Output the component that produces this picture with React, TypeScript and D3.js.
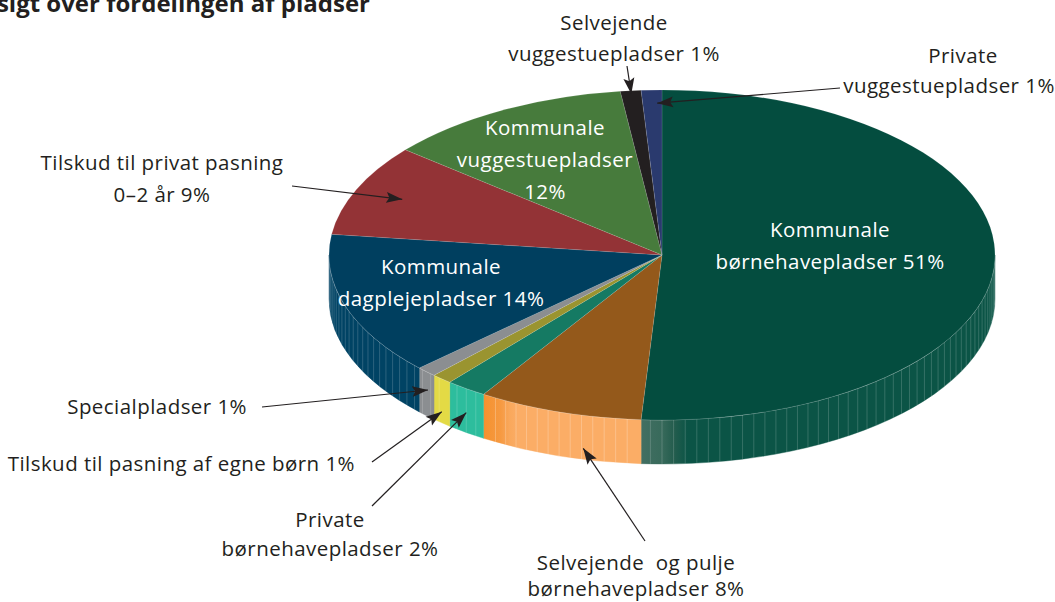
import React from 'react';
import * as d3 from 'd3';

const categories = [
  'Kommunale børnehavepladser',
  'Selvejende og pulje børnehavepladser',
  'Private børnehavepladser',
  'Tilskud til pasning af egne børn',
  'Specialpladser',
  'Kommunale dagplejepladser',
  'Tilskud til privat pasning 0-2 år',
  'Kommunale vuggestuepladser',
  'Selvejende vuggestuepladser',
  'Private vuggestuepladser',
];
const values = [51, 8, 2, 1, 1, 14, 9, 12, 1, 1];
const topColors = ['#044d3f', '#94591b', '#157a63', '#9a9430', '#8b8e91', '#003f5f', '#933336', '#477b3c', '#231f20', '#2a3a6e'];
const sideColors = ['#0b5446', '#fbad66', '#2dbd9d', '#e3da45', '#8b8e91', '#004364', '#933336', '#477b3c', '#231f20', '#2a3a6e'];

// inner (white) labels: slice index, lines
const innerLabels = [
  { i: 0, lines: ['Kommunale', 'børnehavepladser 51%'], x: 830, y: 237 },
  { i: 7, lines: ['Kommunale', 'vuggestuepladser', '12%'], x: 545, y: 135 },
  { i: 5, lines: ['Kommunale', 'dagplejepladser 14%'], x: 441, y: 274 },
];
// outer labels with arrows
const outerLabels = [
  { i: 8, lines: ['Selvejende', 'vuggestuepladser 1%'], x: 614, y: 30, lh: 31, anchor: 'middle', from: [627, 66], pos: 0.5, f: 0.98, d: 0 },
  { i: 9, lines: ['Private', 'vuggestuepladser 1%'], x: 949, y: 63, lh: 30, anchor: 'middle', from: [840, 88], pos: 0.75, f: 0.92, d: 0, firstX: 963 },
  { i: 6, lines: ['Tilskud til privat pasning', '0–2 år 9%'], x: 162, y: 170, lh: 32, anchor: 'middle', from: [292, 186], pos: 0.5, f: 0.85, d: 0 },
  { i: 4, lines: ['Specialpladser 1%'], x: 247, y: 414, lh: 30, anchor: 'end', from: [262, 407], pos: 0.4, f: 1, d: 0.4 },
  { i: 3, lines: ['Tilskud til pasning af egne børn 1%'], x: 355, y: 471, lh: 30, anchor: 'end', from: [372, 462], pos: 0.5, f: 1, d: 0.75 },
  { i: 2, lines: ['Private', 'børnehavepladser 2%'], x: 330, y: 527, lh: 29, anchor: 'middle', from: [372, 506], pos: 0.5, f: 1, d: 0.55 },
  { i: 1, lines: ['Selvejende  og pulje', 'børnehavepladser 8%'], x: 636, y: 570, lh: 26, anchor: 'middle', from: [645, 541], pos: 0.35, f: 1, d: 0.75 },
];

const W = 1055, H = 602;
const cx = 662, cy = 255, rx = 333, ry = 165, depth = 44;

const xS = d3.scaleLinear().domain([-1, 1]).range([cx - rx, cx + rx]);
const yS = d3.scaleLinear().domain([-1, 1]).range([cy - ry, cy + ry]);
const pt = (t: number, f = 1): [number, number] => [xS(f * Math.sin(t)), yS(-f * Math.cos(t))];

const pie = d3.pie<number>().sort(null).value((d) => d).startAngle(0).endAngle(2 * Math.PI);
const arcs = pie(values);

function topPath(a0: number, a1: number) {
  const [x0, y0] = pt(a0);
  const [x1, y1] = pt(a1);
  const large = a1 - a0 > Math.PI ? 1 : 0;
  return `M${cx},${cy}L${x0},${y0}A${rx},${ry} 0 ${large} 1 ${x1},${y1}Z`;
}
function sidePath(s0: number, s1: number) {
  const [x0, y0] = pt(s0);
  const [x1, y1] = pt(s1);
  return `M${x0},${y0}A${rx},${ry} 0 0 1 ${x1},${y1}L${x1},${y1 + depth}A${rx},${ry} 0 0 0 ${x0},${y0 + depth}Z`;
}

const FONT = "'Open Sans', 'Noto Sans', sans-serif";
const FS = 20.5;
const LS = 0.45;
const step = (2 * Math.PI) / 180;

export default function App() {
  const sides: React.ReactNode[] = [];
  const defs: React.ReactNode[] = [];
  arcs.forEach((a, i) => {
    const s0 = Math.max(a.startAngle, Math.PI / 2);
    const s1 = Math.min(a.endAngle, (3 * Math.PI) / 2);
    if (s0 >= s1) return;
    let fill = sideColors[i];
    if (i === 0) {
      const xa = pt(a.endAngle)[0];
      const xb = pt(a.endAngle - 0.14)[0];
      defs.push(
        <linearGradient key={'g' + i} id={'side' + i} gradientUnits="userSpaceOnUse" x1={xa} x2={xb} y1={0} y2={0}>
          <stop offset="0" stopColor="#426f62" />
          <stop offset="0.45" stopColor="#386a5b" />
          <stop offset="0.7" stopColor="#245d4e" />
          <stop offset="1" stopColor={sideColors[0]} />
        </linearGradient>
      );
      fill = `url(#side${i})`;
    }
    if (i === 1) {
      const xa = pt(a.endAngle)[0];
      const xb = pt(a.endAngle - 0.12)[0];
      defs.push(
        <linearGradient key={'g' + i} id={'side' + i} gradientUnits="userSpaceOnUse" x1={xa} x2={xb} y1={0} y2={0}>
          <stop offset="0" stopColor="#f5912e" />
          <stop offset="0.5" stopColor="#f69a42" />
          <stop offset="0.75" stopColor="#f9a85c" />
          <stop offset="1" stopColor={sideColors[1]} />
        </linearGradient>
      );
      fill = `url(#side${i})`;
    }
    sides.push(<path key={'s' + i} d={sidePath(s0, s1)} fill={fill} stroke={fill} strokeWidth={0.4} />);
    for (let t = Math.ceil(s0 / step + 0.3) * step; t < s1 - step * 0.3; t += step) {
      const [x, y] = pt(t);
      sides.push(
        <line key={`f${i}-${t}`} x1={x} y1={y} x2={x} y2={y + depth} stroke="#ffffff" strokeOpacity={i === 1 ? 0.3 : 0.22} strokeWidth={0.8} />
      );
    }
  });

  const [ex0, ey0] = pt(Math.PI / 2);
  const [ex1, ey1] = pt((3 * Math.PI) / 2);

  return (
    <svg width={W} height={H} style={{ position: 'absolute', left: 0, top: 0, background: '#fff' }} fontFamily={FONT}>
      <defs>
        {defs}
        <marker id="arr" markerUnits="userSpaceOnUse" markerWidth={17} markerHeight={12} refX={16} refY={6} orient="auto">
          <path d="M0,0.5 L16,6 L0,11.5 L3,6 Z" fill="#231f20" />
        </marker>
      </defs>
      <text x={370} y={12} textAnchor="end" fontSize={24} fontWeight="bold" fill="#231f20">Oversigt over fordelingen af pladser</text>
      {sides}
      <path d={`M${ex0},${ey0}A${rx},${ry} 0 0 1 ${ex1},${ey1}`} fill="none" stroke="#ffffff" strokeOpacity={0.35} strokeWidth={0.8} />
      {arcs.map((a, i) => (
        <path key={'t' + i} d={topPath(a.startAngle, a.endAngle)} fill={topColors[i]} stroke="#ffffff" strokeOpacity={0.18} strokeWidth={0.6} />
      ))}
      {innerLabels.map((l, k) => (
        <text key={'il' + k} textAnchor="middle" fill="#ffffff" fontSize={FS} letterSpacing={LS}>
          {l.lines.map((s, j) => (
            <tspan key={j} x={l.x} y={l.y + j * 32}>{s}</tspan>
          ))}
        </text>
      ))}
      {outerLabels.map((l, k) => {
        const a = arcs[l.i];
        const t = a.startAngle + (a.endAngle - a.startAngle) * l.pos;
        const [tx, ty] = pt(t, l.f);
        const tipY = ty + l.d * depth;
        return (
          <g key={'ol' + k}>
            <line x1={l.from[0]} y1={l.from[1]} x2={tx} y2={tipY} stroke="#231f20" strokeWidth={1.2} markerEnd="url(#arr)" />
            <text textAnchor={l.anchor as any} fill="#231f20" fontSize={FS} letterSpacing={LS} style={{ whiteSpace: 'pre' }}>
              {l.lines.map((s, j) => (
                <tspan key={j} x={j === 0 && (l as any).firstX ? (l as any).firstX : l.x} y={l.y + j * l.lh}>{s}</tspan>
              ))}
            </text>
          </g>
        );
      })}
    </svg>
  );
}
